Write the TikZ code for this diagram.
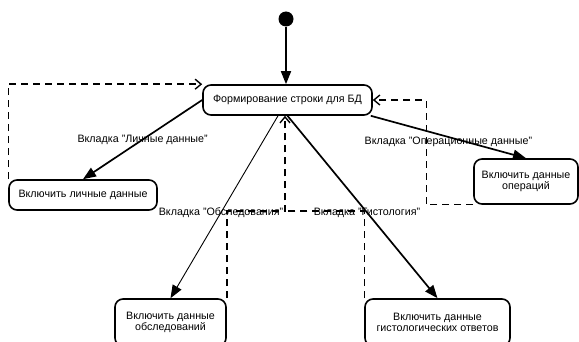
\documentclass[tikz,border=0pt]{standalone}
\usepackage{fontspec}
\setmainfont{Liberation Sans}
\usetikzlibrary{arrows.meta, positioning}
\tikzset{
  state/.style = {draw, rounded corners=8pt, line width=1.6pt, align=center,
                  font=\fontsize{10.7}{11.5}\selectfont, inner sep=0pt},
  init/.style  = {circle, fill=black, minimum size=15pt, inner sep=0pt},
  flow/.style  = {-{Triangle[length=13pt, width=10pt]}, line width=1.7pt},
  thin/.style  = {-{Triangle[length=13pt, width=10pt]}, line width=0.9pt},
  ret/.style   = {-{Straight Barb[length=6pt, width=10pt]}, line width=1.4pt,
                  dash pattern=on 7pt off 5pt},
  retline/.style = {line width=1.4pt, dash pattern=on 7pt off 5pt},
  lbl/.style   = {font=\fontsize{10.7}{12}\selectfont, inner sep=1pt}
}
\begin{document}
\begin{tikzpicture}[x=1pt, y=-1pt]
\useasboundingbox (0,0) rectangle (579,342);
\node[init]                                           at (286  , 19  ) (start) {};
\node[state, minimum width=169, minimum height=30]    at (287.5, 100 ) (main)  {Формирование строки для БД};
\node[state, minimum width=148, minimum height=30]    at ( 83  , 195 ) (lich)  {Включить личные данные};
\node[state, minimum width=104, minimum height=45]    at (526  , 181.5) (oper) {Включить данные\\операций};
\node[state, minimum width=111, minimum height=47]    at (170.5, 322.5) (obs)  {Включить данные\\обследований};
\node[state, minimum width=145, minimum height=47]    at (437.5, 322.5) (hist) {Включить данные\\гистологических ответов};
\coordinate (join) at (285, 211);

\draw[ret] (lich.north west) |- (main.north west);
\draw[ret] (oper.south west) -- ++(-47,0) |- (main.east);
\draw[ret] (obs.north east) |- (join) -- (join |- main.south);
\draw[retline] (hist.north west) |- (join);

\draw[flow] (start.south) -- (start.south |- main.north);
\draw[flow] (main.west) -- node[lbl] {Вкладка "Личные данные"} (lich.north);
\draw[flow] ([xshift=-2pt]main.south east) -- node[lbl, yshift=-5pt] {Вкладка "Операционные данные"} (oper.north);
\draw[thin] ([xshift=-9.5pt]main.south) -- node[lbl, pos=0.53] {Вкладка "Обследования"} (obs.north);
\draw[flow] (main.south) -- node[lbl, pos=0.53] {Вкладка "Гистология"} (hist.north);
\end{tikzpicture}
\end{document}
